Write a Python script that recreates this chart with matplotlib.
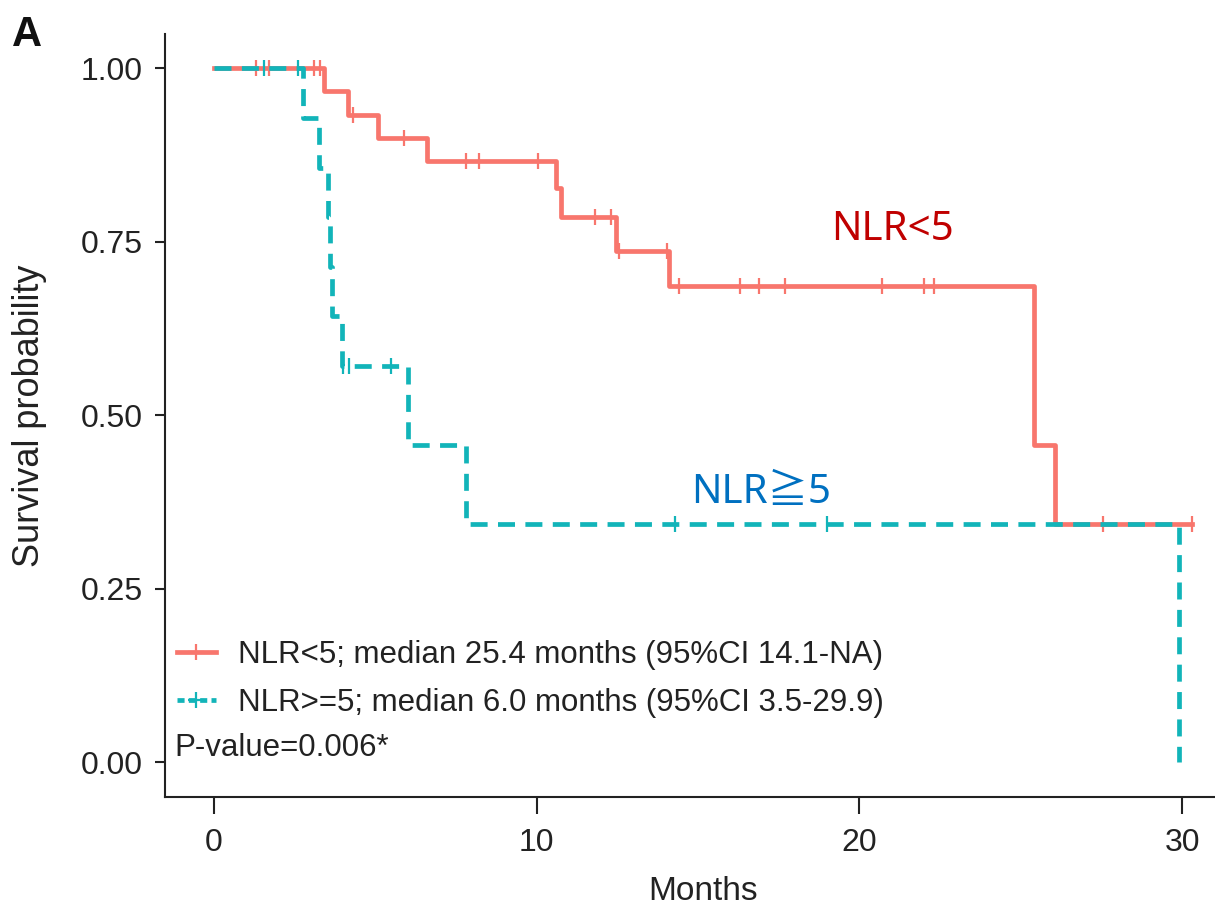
import numpy as np
import matplotlib
matplotlib.use("Agg")
import matplotlib.pyplot as plt
from matplotlib.lines import Line2D

# Kaplan-Meier step data (months, survival probability)
low_times = [0, 3.4, 4.15, 5.1, 6.6, 10.6, 10.75, 12.45, 14.1, 25.4, 26.05, 30.3]
low_surv = [1.0, 0.967, 0.933, 0.900, 0.867, 0.827, 0.785, 0.736, 0.686, 0.457, 0.343, 0.343]
low_censor = [1.3, 1.7, 3.1, 3.3, 4.3, 5.9, 7.8, 8.2, 10.05, 11.8, 12.3, 12.55,
              14.05, 14.4, 16.3, 16.9, 17.7, 20.7, 22.0, 22.3, 27.55, 30.3]

high_times = [0, 2.75, 3.25, 3.55, 3.6, 3.65, 3.97, 6.0, 7.8, 29.9]
high_surv = [1.0, 0.929, 0.857, 0.786, 0.714, 0.643, 0.571, 0.457, 0.343, 0.0]
high_censor = [1.55, 2.6, 4.0, 4.2, 5.5, 14.3, 19.0]

x_ticks = [0, 10, 20, 30]
y_ticks = [0.00, 0.25, 0.50, 0.75, 1.00]
y_ticklabels = ["0.00", "0.25", "0.50", "0.75", "1.00"]

low_label = "NLR<5; median 25.4 months (95%CI 14.1-NA)"
high_label = "NLR>=5; median 6.0 months (95%CI 3.5-29.9)"
p_text = "P-value=0.006*"

RED = "#F8766D"
TEAL = "#12B4B9"
INK = "#222222"

plt.rcParams["font.family"] = ["Liberation Sans", "DejaVu Sans"]


def surv_at(times, surv, t):
    idx = np.searchsorted(times, t, side="right") - 1
    return np.asarray(surv)[idx]


fig = plt.figure(figsize=(12.15, 9.10), dpi=100)
ax = fig.add_axes([0.1358, 0.1242, 0.8853, 0.8389])

LW = 3.4
dash = (0, (3.6, 2.2))
ax.step(low_times, low_surv, where="post", color=RED, lw=LW, zorder=3)
ax.plot(low_censor, surv_at(low_times, low_surv, low_censor), ls="none",
        marker="|", ms=12, mew=1.6, color=RED, zorder=3)
ax.step(high_times, high_surv, where="post", color=TEAL, lw=LW, ls=dash, zorder=4)
ax.plot(high_censor, surv_at(high_times, high_surv, high_censor), ls="none",
        marker="|", ms=12, mew=1.6, color=TEAL, zorder=4)

ax.set_xlim(-1.515, 31.815)
ax.set_ylim(-0.05, 1.05)
ax.set_xticks(x_ticks)
ax.set_yticks(y_ticks)
ax.set_yticklabels(y_ticklabels)

for side in ("top", "right"):
    ax.spines[side].set_visible(False)
for side in ("left", "bottom"):
    ax.spines[side].set_linewidth(1.5)
    ax.spines[side].set_color(INK)

ax.tick_params(axis="y", length=7, width=1.5, pad=9, labelsize=23, colors=INK)
ax.tick_params(axis="x", length=12, width=1.5, pad=10, labelsize=23, colors=INK)

ax.set_xlabel("Months", fontsize=24, labelpad=13, color=INK)
ax.set_ylabel("Survival probability", fontsize=26, labelpad=24, color=INK)

handles = [
    Line2D([], [], color=RED, lw=LW, marker="+", ms=12, mew=1.6),
    Line2D([], [], color=TEAL, lw=LW, ls=(0, (1.5, 0.9)), marker="+", ms=12, mew=1.6),
]
leg = ax.legend(handles, [low_label, high_label], loc="lower left",
                bbox_to_anchor=(0.011, 0.1035), frameon=False, fontsize=22.5,
                handlelength=1.25, handletextpad=0.7, labelspacing=0.57,
                borderaxespad=0.0, borderpad=0.0)
for t in leg.get_texts():
    t.set_color(INK)

ax.text(0.009, 0.064, p_text, transform=ax.transAxes, fontsize=22.5,
        va="center", ha="left", color=INK)

ann_font = ["Noto Sans", "Noto Sans CJK SC", "DejaVu Sans"]
ax.text(21.04, 0.767, "NLR<5", fontsize=29, color="#C00000", family=ann_font,
        ha="center", va="center")
ax.text(16.95, 0.388, "NLR≧5", fontsize=29, color="#0070C0", family=ann_font,
        ha="center", va="center")

fig.text(0.010, 0.983, "A", fontsize=30, fontweight="bold", ha="left", va="top",
         color="#111111")

fig.savefig("out.png", dpi=100, facecolor="white")
